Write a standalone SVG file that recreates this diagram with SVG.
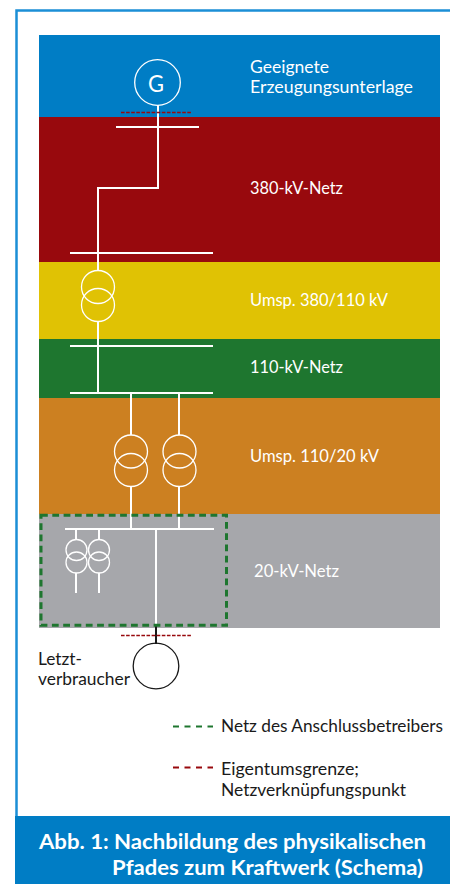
<svg xmlns="http://www.w3.org/2000/svg" width="450" height="884" viewBox="0 0 450 884">
<style>
text{font-family:Lato,"Open Sans","Liberation Sans",sans-serif;font-size:16.500px}
.w{fill:#fff}.k{fill:#1a1a1a}
.l{fill:none;stroke:#fff;stroke-width:2}
.c{fill:none;stroke:#fff;stroke-width:1.300}
.g{fill:none;stroke:#1e762f;stroke-width:3;stroke-dasharray:6.800 4.500}
.r{fill:none;stroke:#98090d;stroke-width:1.500;stroke-dasharray:3.600 1.500}
.lg{fill:none;stroke-width:2.200;stroke-dasharray:6 5.500}
.t{fill:#fff;font-size:21px;font-weight:700}
</style>
<rect width="450" height="884" fill="#fff"/>
<path d="M450 10.500H16.500V816" fill="none" stroke="#1b8fd6" stroke-width="2.500"/>
<g id="bands">
<rect x="39" y="35" width="401" height="82" fill="#007dc5"/>
<rect x="39" y="117" width="401" height="145" fill="#98090d"/>
<rect x="39" y="262" width="401" height="77" fill="#e0c204"/>
<rect x="39" y="339" width="401" height="59" fill="#1e762f"/>
<rect x="39" y="398" width="401" height="116" fill="#cc8021"/>
<rect x="39" y="514" width="401" height="114" fill="#a6a7ab"/>
</g>
<g id="connectors">
<path class="l" d="M158 105V188H98V270M98 321V393M131 393V435M179 393V435M131 486V529M179 486V529M76 529V540M99 529V540M76 573V593M99 573V593M156 529V626"/>
<path d="M156 626V644" fill="none" stroke="#1a1a1a" stroke-width="2"/>
<path class="l" d="M116 127H199M70 253H213M70 346H213M70 393H213M65 529H214"/>
</g>
<g id="generator"><circle class="c" cx="157.500" cy="82.500" r="22.800"/><text class="w" x="148" y="92" textLength="16" lengthAdjust="spacingAndGlyphs" style="font-size:24px">G</text></g>
<g id="trafo-380-110"><circle class="c" cx="98" cy="287" r="16.500"/><circle class="c" cx="98" cy="305" r="16.500"/></g>
<g id="trafo-110-20-a"><circle class="c" cx="131" cy="451.500" r="16.500"/><circle class="c" cx="131" cy="470" r="16.500"/></g>
<g id="trafo-110-20-b"><circle class="c" cx="179.500" cy="451.500" r="16.500"/><circle class="c" cx="179.500" cy="470" r="16.500"/></g>
<g id="trafo-20-a"><circle class="c" cx="76.500" cy="550" r="10.500"/><circle class="c" cx="76.500" cy="562.500" r="10.500"/></g>
<g id="trafo-20-b"><circle class="c" cx="99" cy="550" r="10.500"/><circle class="c" cx="99" cy="562.500" r="10.500"/></g>
<g id="consumer"><circle cx="156" cy="666" r="22.800" fill="none" stroke="#1a1a1a" stroke-width="1.300"/>
<text class="k" x="38" y="665" textLength="44" lengthAdjust="spacingAndGlyphs">Letzt-</text><text class="k" x="38" y="685" textLength="92" lengthAdjust="spacingAndGlyphs">verbraucher</text></g>
<g id="boundaries">
<rect class="g" x="41" y="515.300" width="185.500" height="110"/>
<path class="r" d="M121 112.500H192M121 635.500H192"/>
</g>
<g id="labels">
<text class="w" x="250" y="73" textLength="79" lengthAdjust="spacingAndGlyphs">Geeignete</text>
<text class="w" x="250" y="93" textLength="163" lengthAdjust="spacingAndGlyphs">Erzeugungsunterlage</text>
<text class="w" x="250" y="194" textLength="93" lengthAdjust="spacingAndGlyphs">380-kV-Netz</text>
<text class="w" x="250" y="306" textLength="138" lengthAdjust="spacingAndGlyphs">Umsp. 380/110 kV</text>
<text class="w" x="250" y="373" textLength="93" lengthAdjust="spacingAndGlyphs">110-kV-Netz</text>
<text class="w" x="250" y="462" textLength="129" lengthAdjust="spacingAndGlyphs">Umsp. 110/20 kV</text>
<text class="w" x="254" y="577" textLength="85" lengthAdjust="spacingAndGlyphs">20-kV-Netz</text>
</g>
<g id="legend">
<path class="lg" stroke="#1e762f" d="M173 726.500H213"/>
<path class="lg" stroke="#98090d" d="M173 767.500H213"/>
<text class="k" x="221" y="732" textLength="222" lengthAdjust="spacingAndGlyphs">Netz des Anschlussbetreibers</text>
<text class="k" x="221" y="775" textLength="138" lengthAdjust="spacingAndGlyphs">Eigentumsgrenze;</text>
<text class="k" x="221" y="796" textLength="185" lengthAdjust="spacingAndGlyphs">Netzverknüpfungspunkt</text>
</g>
<g id="caption">
<rect x="15" y="816" width="435" height="68" fill="#007dc5"/>
<text class="t" x="39" y="849" textLength="387" lengthAdjust="spacingAndGlyphs">Abb. 1: Nachbildung des physikalischen</text>
<text class="t" x="112" y="875" textLength="311" lengthAdjust="spacingAndGlyphs">Pfades zum Kraftwerk (Schema)</text>
</g>
</svg>
